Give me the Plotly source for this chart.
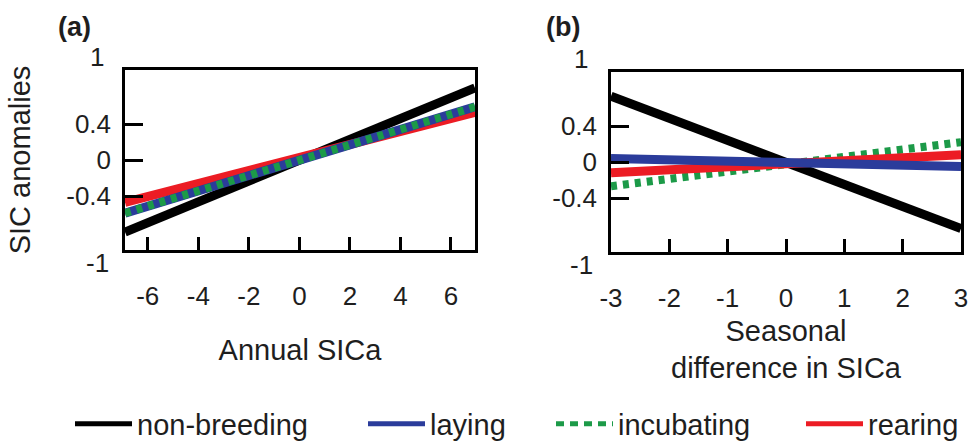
import plotly.graph_objects as go

W, H = 980, 445

# ---------------- data ----------------
x_annual = [-6.9, 6.95]
x_seasonal = [-3.0, 3.0]

annual_nonbreeding = [-0.80, 0.80]
annual_laying = [-0.59, 0.59]
annual_incubating = [-0.59, 0.59]
annual_rearing = [-0.47, 0.53]

seasonal_nonbreeding = [0.73, -0.74]
seasonal_laying = [0.04, -0.05]
seasonal_incubating = [-0.27, 0.22]
seasonal_rearing = [-0.12, 0.08]

annual_ticks = [-6, -4, -2, 0, 2, 4, 6]
annual_tick_text = ["-6", "-4", "-2", "0", "2", "4", "6"]
seasonal_ticks = [-3, -2, -1, 0, 1, 2, 3]
seasonal_tick_text = ["-3", "-2", "-1", "0", "1", "2", "3"]
y_ticks = [-0.4, 0, 0.4]
y_tick_text = ["-0.4", "0", "0.4"]
y_end_labels = [1, -1]
series_names = ["non-breeding", "laying", "incubating", "rearing"]

# ---------------- styles ----------------
FONT = "Liberation Sans, Arial, Helvetica, sans-serif"
TXT = "#1e1e1e"
styles = {
    "non-breeding": dict(color="#000000", width=9, dash="solid"),
    "laying": dict(color="#2b3c9b", width=9, dash="solid"),
    "incubating": dict(color="#1c9a48", width=8, dash="6px,6px"),
    "rearing": dict(color="#ec1c24", width=9, dash="solid"),
}
legend_styles = {
    "non-breeding": dict(color="#000000", width=5, dash="solid"),
    "laying": dict(color="#2b3c9b", width=5, dash="solid"),
    "incubating": dict(color="#1c9a48", width=5, dash="8px,6px"),
    "rearing": dict(color="#ec1c24", width=5, dash="solid"),
}
legend_of = {"non-breeding": "legend", "laying": "legend2",
             "incubating": "legend3", "rearing": "legend4"}

annual = {"non-breeding": annual_nonbreeding, "laying": annual_laying,
          "incubating": annual_incubating, "rearing": annual_rearing}
seasonal = {"non-breeding": seasonal_nonbreeding, "laying": seasonal_laying,
            "incubating": seasonal_incubating, "rearing": seasonal_rearing}

fig = go.Figure()

order_a = ["non-breeding", "rearing", "laying", "incubating"]
order_b = ["non-breeding", "incubating", "rearing", "laying"]

for name in order_a:
    fig.add_trace(go.Scatter(
        x=x_annual, y=annual[name], mode="lines", name=name,
        line=styles[name], xaxis="x", yaxis="y",
        showlegend=False, legendgroup=name, hoverinfo="skip"))
for name in order_b:
    fig.add_trace(go.Scatter(
        x=x_seasonal, y=seasonal[name], mode="lines", name=name,
        line=styles[name], xaxis="x2", yaxis="y2",
        showlegend=False, legendgroup=name, hoverinfo="skip"))
# legend entries (thinner key lines, as in the reference key)
for name in series_names:
    fig.add_trace(go.Scatter(
        x=[None], y=[None], mode="lines", name=name, line=legend_styles[name],
        xaxis="x", yaxis="y", showlegend=True, legendgroup=name,
        legend=legend_of[name], hoverinfo="skip"))


def px_x(p):
    return p / W


def px_y(p):
    return 1 - p / H


common_axis = dict(showline=True, linecolor="black", linewidth=2.5, mirror=True,
                   ticks="inside", tickcolor="black", tickwidth=2.5,
                   showgrid=False, zeroline=False,
                   tickfont=dict(family=FONT, size=26, color=TXT))

fig.update_layout(
    width=W, height=H,
    margin=dict(l=0, r=0, t=0, b=0, autoexpand=False),
    paper_bgcolor="white", plot_bgcolor="white",
    font=dict(family=FONT, color=TXT),
    xaxis=dict(domain=[px_x(125), px_x(475)], range=[-6.9, 6.95],
               tickvals=annual_ticks, ticktext=annual_tick_text, ticklen=13, anchor="y",
               ticklabelstandoff=21,
               title=dict(text="Annual SICa", standoff=30,
                          font=dict(family=FONT, size=29, color=TXT)),
               **common_axis),
    yaxis=dict(domain=[px_y(250), px_y(70)], range=[-1.0, 1.0],
               tickvals=y_ticks, ticktext=y_tick_text, ticklen=18, anchor="x",
               ticklabelstandoff=6,
               title=dict(text="SIC anomalies", standoff=28,
                          font=dict(family=FONT, size=29, color=TXT)),
               **common_axis),
    xaxis2=dict(domain=[px_x(611), px_x(961)], range=[-3, 3],
                tickvals=seasonal_ticks, ticktext=seasonal_tick_text, ticklen=13, anchor="y2",
                ticklabelstandoff=21,
                title=dict(text="Seasonal<br>difference in SICa", standoff=9,
                           font=dict(family=FONT, size=29, color=TXT)),
                **common_axis),
    yaxis2=dict(domain=[px_y(252), px_y(72)], range=[-1.0, 1.0],
                tickvals=y_ticks, ticktext=y_tick_text, ticklen=18, anchor="x2",
                ticklabelstandoff=6,
                **common_axis),
)

# one legend per entry so each can sit where the reference puts it
legend_text_start = {"legend": 137, "legend2": 430, "legend3": 618, "legend4": 868}
ITEMW = 57
for key, xs in legend_text_start.items():
    fig.update_layout({key: dict(
        x=(xs - 40 - (ITEMW - 30)) / W, xanchor="left", xref="container",
        y=px_y(424), yanchor="middle", yref="container",
        orientation="h", bgcolor="rgba(0,0,0,0)", borderwidth=0, itemwidth=ITEMW,
        font=dict(family=FONT, size=29, color=TXT))})

annotations = []
# panel letters
annotations.append(dict(text="<b>(a)</b>", x=px_x(56), y=px_y(27), xref="paper", yref="paper",
                        xanchor="left", yanchor="middle", showarrow=False,
                        font=dict(family=FONT, size=27, color=TXT)))
annotations.append(dict(text="<b>(b)</b>", x=px_x(544), y=px_y(27), xref="paper", yref="paper",
                        xanchor="left", yanchor="middle", showarrow=False,
                        font=dict(family=FONT, size=27, color=TXT)))
# the "1" and "-1" labels sit just outside the frames in the reference
for yref, xc in (("y", 97), ("y2", 581)):
    for v in y_end_labels:
        annotations.append(dict(text=str(v), x=px_x(xc), xref="paper", y=v, yref=yref,
                                xanchor="center", yanchor="middle", showarrow=False,
                                yshift=13 if v > 0 else -13,
                                font=dict(family=FONT, size=26, color=TXT)))
fig.update_layout(annotations=annotations)

fig.write_html("out.html", config={"displayModeBar": False},
               post_script="document.body.style.margin='0px';"
                           "document.body.style.overflow='hidden';")
